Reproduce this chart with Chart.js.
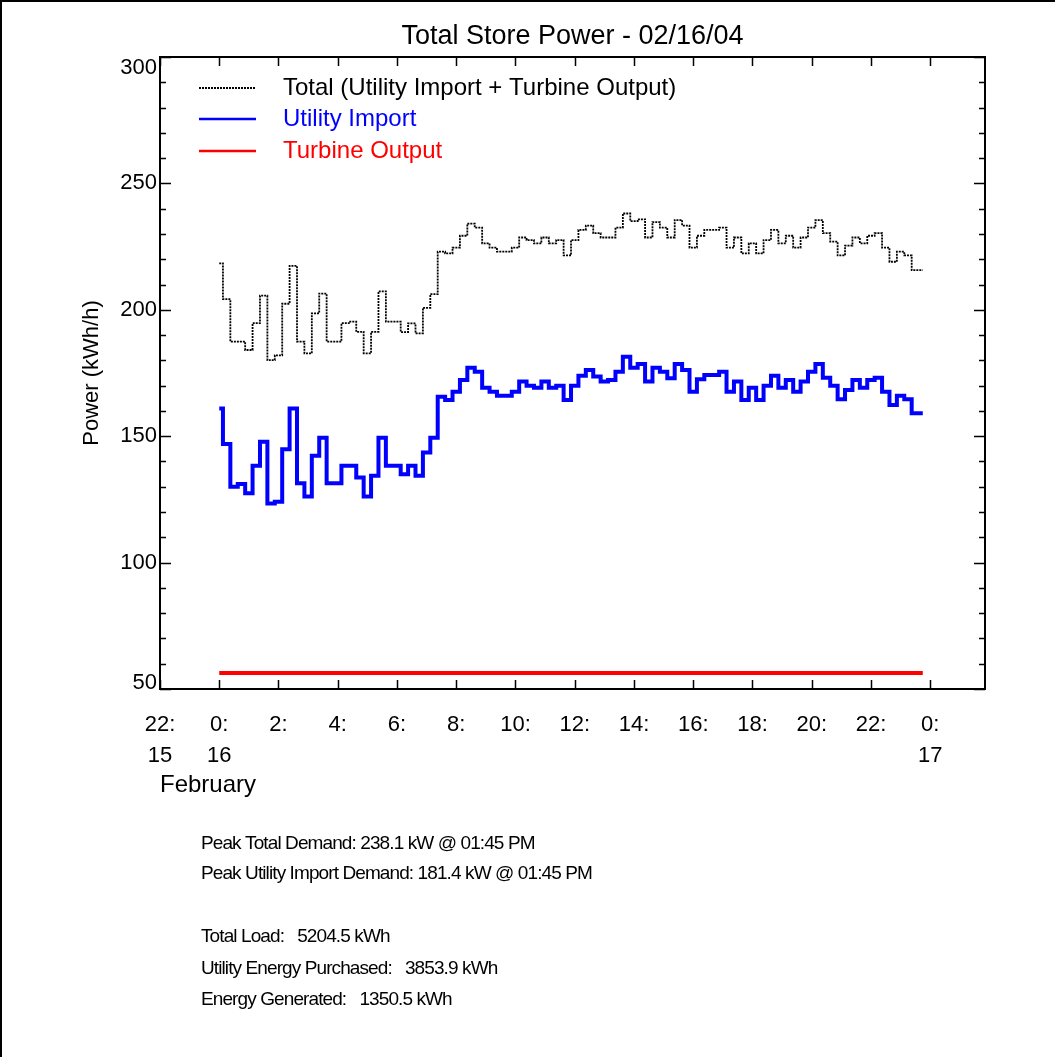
<!DOCTYPE html>
<html>
<head>
<meta charset="utf-8">
<title>Total Store Power - 02/16/04</title>
<script src="https://cdn.jsdelivr.net/npm/chart.js@4.4.1/dist/chart.umd.min.js"></script>
<style>
    html, body { margin: 0; padding: 0; background: #fff; }
    #cadre { position: relative; width: 1055px; height: 1057px; }
</style>
</head>
<body>
<div id="cadre"><canvas id="graphique" width="1055" height="1057"></canvas></div>
<script>
// heures de la journée du 16/02 (pas de 15 minutes)
const heures = [
    0, 0.25, 0.5, 0.75, 1, 1.25, 1.5, 1.75, 2, 2.25, 2.5, 2.75,
    3, 3.25, 3.5, 3.75, 4, 4.25, 4.5, 4.75, 5, 5.25, 5.5, 5.75,
    6, 6.25, 6.5, 6.75, 7, 7.25, 7.5, 7.75, 8, 8.25, 8.5, 8.75,
    9, 9.25, 9.5, 9.75, 10, 10.25, 10.5, 10.75, 11, 11.25, 11.5, 11.75,
    12, 12.25, 12.5, 12.75, 13, 13.25, 13.5, 13.75, 14, 14.25, 14.5, 14.75,
    15, 15.25, 15.5, 15.75, 16, 16.25, 16.5, 16.75, 17, 17.25, 17.5, 17.75,
    18, 18.25, 18.5, 18.75, 19, 19.25, 19.5, 19.75, 20, 20.25, 20.5, 20.75,
    21, 21.25, 21.5, 21.75, 22, 22.25, 22.5, 22.75, 23, 23.25, 23.5, 23.75
];

// puissance totale (import réseau + turbine), kW
const puissanceTotale = [
    218.4, 204.2, 187.4, 187.4, 184.1, 194.7, 205.6, 180.1, 182.0, 202.4, 217.4, 187.4,
    182.8, 198.6, 206.4, 187.4, 187.4, 194.7, 195.3, 191.3, 182.8, 191.3, 207.3, 195.3,
    195.3, 191.2, 194.6, 190.7, 200.8, 206.2, 223.0, 222.3, 224.6, 229.3, 234.1, 232.5,
    226.3, 224.6, 223.0, 223.0, 224.6, 228.6, 227.6, 226.3, 228.6, 226.3, 227.6, 221.5,
    227.6, 231.6, 233.3, 230.3, 228.6, 228.6, 232.5, 238.1, 235.1, 235.8, 228.6, 234.7,
    232.5, 228.6, 235.5, 233.3, 224.6, 229.3, 231.6, 231.6, 232.5, 224.6, 228.6, 222.3,
    226.3, 222.3, 227.6, 231.6, 226.3, 229.3, 224.6, 228.6, 232.5, 235.5, 230.3, 227.0,
    221.5, 225.4, 228.6, 226.3, 229.3, 230.3, 224.6, 219.0, 223.0, 221.5, 215.7, 215.7
];

// import réseau, kW
const importReseau = [
    161.0, 146.9, 130.0, 131.1, 127.4, 138.3, 147.8, 123.4, 124.1, 144.8, 161.0, 131.4,
    126.1, 142.3, 149.4, 131.4, 131.4, 138.3, 138.3, 133.7, 126.1, 134.4, 149.4, 138.3,
    138.3, 134.9, 138.3, 134.4, 143.6, 149.4, 165.6, 164.3, 167.6, 172.2, 177.1, 175.5,
    169.2, 167.6, 166.0, 166.0, 167.6, 171.6, 170.0, 169.2, 171.6, 169.2, 170.0, 164.3,
    170.0, 173.9, 176.2, 173.6, 171.6, 172.2, 175.5, 181.4, 177.1, 178.6, 171.6, 177.1,
    175.5, 172.9, 178.6, 176.2, 167.6, 172.5, 174.2, 174.2, 175.5, 167.6, 171.6, 164.3,
    169.2, 164.3, 170.0, 173.9, 169.2, 172.2, 167.6, 171.6, 175.5, 178.6, 173.1, 170.0,
    164.6, 168.3, 172.2, 169.2, 172.2, 173.1, 167.6, 162.3, 166.0, 164.6, 159.1, 159.1
];

// sortie turbine, kW
const sortieTurbine = [
    56.3, 56.3, 56.3, 56.3, 56.3, 56.3, 56.3, 56.3, 56.3, 56.3, 56.3, 56.3,
    56.3, 56.3, 56.3, 56.3, 56.3, 56.3, 56.3, 56.3, 56.3, 56.3, 56.3, 56.3,
    56.3, 56.3, 56.3, 56.3, 56.3, 56.3, 56.3, 56.3, 56.3, 56.3, 56.3, 56.3,
    56.3, 56.3, 56.3, 56.3, 56.3, 56.3, 56.3, 56.3, 56.3, 56.3, 56.3, 56.3,
    56.3, 56.3, 56.3, 56.3, 56.3, 56.3, 56.3, 56.3, 56.3, 56.3, 56.3, 56.3,
    56.3, 56.3, 56.3, 56.3, 56.3, 56.3, 56.3, 56.3, 56.3, 56.3, 56.3, 56.3,
    56.3, 56.3, 56.3, 56.3, 56.3, 56.3, 56.3, 56.3, 56.3, 56.3, 56.3, 56.3,
    56.3, 56.3, 56.3, 56.3, 56.3, 56.3, 56.3, 56.3, 56.3, 56.3, 56.3, 56.3
];

// graduations
const graduationsHeures = [-2, 0, 2, 4, 6, 8, 10, 12, 14, 16, 18, 20, 22, 24];
const etiquettesHeures = ['22:', '0:', '2:', '4:', '6:', '8:', '10:', '12:', '14:', '16:', '18:', '20:', '22:', '0:'];
const etiquettesJours = ['15', '16', '', '', '', '', '', '', '', '', '', '', '', '17'];
const graduationsPuissance = [50, 100, 150, 200, 250, 300];

const titre = 'Total Store Power - 02/16/04';
const titreAxeY = 'Power (kWh/h)';
const moisAxeX = 'February';

const legende = [
    {texte: 'Total (Utility Import + Turbine Output)', couleur: '#000000', pointille: true},
    {texte: 'Utility Import', couleur: '#0000ff', pointille: false},
    {texte: 'Turbine Output', couleur: '#ff0000', pointille: false}
];

const resume = [
    'Peak Total Demand: 238.1 kW @ 01:45 PM',
    'Peak Utility Import Demand: 181.4 kW @ 01:45 PM',
    '',
    'Total Load:   5204.5 kWh',
    'Utility Energy Purchased:   3853.9 kWh',
    'Energy Generated:   1350.5 kWh'
];

const police = '"Liberation Sans", Arial, Helvetica, sans-serif';


function versPoints(valeurs) {
    return valeurs.map((v, i) => ({x: heures[i], y: v}));
}


// cadre, graduations internes, légende et textes autour du graphique
const habillage = {
    id: 'habillage',
    afterDraw(chart) {
        const ctx = chart.ctx;
        const zone = chart.chartArea;
        const echX = chart.scales.x;
        const echY = chart.scales.y;

        ctx.save();
        ctx.strokeStyle = '#000';
        ctx.fillStyle = '#000';

        // bord de la figure
        ctx.lineWidth = 2;
        ctx.beginPath();
        ctx.moveTo(1, 1057);
        ctx.lineTo(1, 1);
        ctx.lineTo(1055, 1);
        ctx.stroke();

        // cadre du graphique
        ctx.strokeRect(zone.left, zone.top, zone.right - zone.left, zone.bottom - zone.top);

        // graduations Y (majeures tous les 50, mineures tous les 10)
        ctx.lineWidth = 1.5;
        ctx.beginPath();
        for (let v = 50; v <= 300; v += 10) {
            const y = Math.round(echY.getPixelForValue(v)) + 0.5;
            const long = graduationsPuissance.includes(v) ? 11 : 6;
            ctx.moveTo(zone.left, y);
            ctx.lineTo(zone.left + long, y);
            ctx.moveTo(zone.right, y);
            ctx.lineTo(zone.right - long, y);
        }
        // graduations X
        for (const h of graduationsHeures) {
            const x = Math.round(echX.getPixelForValue(h)) + 0.5;
            ctx.moveTo(x, zone.bottom);
            ctx.lineTo(x, zone.bottom - 9);
            ctx.moveTo(x, zone.top);
            ctx.lineTo(x, zone.top + 9);
        }
        ctx.stroke();

        // étiquettes Y, gardées dans la hauteur du cadre
        ctx.font = '22px ' + police;
        ctx.textAlign = 'right';
        ctx.textBaseline = 'middle';
        for (const v of graduationsPuissance) {
            let y = echY.getPixelForValue(v);
            y = Math.max(zone.top + 11, Math.min(zone.bottom - 6, y));
            ctx.fillText(String(v), zone.left - 3, y);
        }

        // titre
        ctx.font = '27px ' + police;
        ctx.textAlign = 'center';
        ctx.textBaseline = 'middle';
        ctx.fillText(titre, (zone.left + zone.right) / 2, 37);

        // titre de l'axe Y
        ctx.save();
        ctx.translate(92, (zone.top + zone.bottom) / 2);
        ctx.rotate(-Math.PI / 2);
        ctx.font = '22px ' + police;
        ctx.fillText(titreAxeY, 0, 0);
        ctx.restore();

        // mois sous l'axe X
        ctx.font = '24px ' + police;
        ctx.textAlign = 'left';
        ctx.fillText(moisAxeX, 160, 785);

        // légende
        const lignesLegende = [88, 119, 151];
        legende.forEach(function (el, i) {
            const y = lignesLegende[i];
            ctx.strokeStyle = el.couleur;
            ctx.lineWidth = el.pointille ? 1.8 : 2.5;
            ctx.setLineDash(el.pointille ? [2, 1] : []);
            ctx.beginPath();
            ctx.moveTo(199, y);
            ctx.lineTo(256, y);
            ctx.stroke();
            ctx.setLineDash([]);
            ctx.fillStyle = el.couleur;
            ctx.font = '24px ' + police;
            ctx.fillText(el.texte, 283, y);
        });

        // résumé énergétique
        ctx.fillStyle = '#000';
        ctx.font = '19px ' + police;
        if ('letterSpacing' in ctx) {
            ctx.letterSpacing = '-0.9px';
        }
        const lignesResume = [844, 874, 906, 937, 969, 1000];
        resume.forEach(function (txt, i) {
            if (txt) {
                ctx.fillText(txt, 201, lignesResume[i]);
            }
        });

        ctx.restore();
    }
};


const graph = document.getElementById('graphique');

new Chart(graph, {
    type: 'line',
    data: {
        datasets: [{
            label: legende[0].texte,
            data: versPoints(puissanceTotale),
            borderColor: '#000000',
            borderWidth: 1.8,
            borderDash: [2, 1],
            stepped: 'middle',
            pointRadius: 0,
            fill: false
        }, {
            label: legende[1].texte,
            data: versPoints(importReseau),
            borderColor: '#0000ff',
            borderWidth: 4,
            stepped: 'middle',
            pointRadius: 0,
            fill: false
        }, {
            label: legende[2].texte,
            data: versPoints(sortieTurbine),
            borderColor: '#ff0000',
            borderWidth: 4,
            stepped: 'middle',
            pointRadius: 0,
            fill: false
        }]
    },
    options: {
        responsive: false,
        animation: false,
        devicePixelRatio: 1,
        layout: {
            padding: {top: 57, right: 70, left: 0, bottom: 0}
        },
        plugins: {
            legend: {display: false},
            tooltip: {enabled: false},
            title: {display: false}
        },
        scales: {
            x: {
                type: 'linear',
                min: -2,
                max: 25.85,
                grid: {display: false},
                border: {display: false},
                afterBuildTicks: function (scale) {
                    scale.ticks = graduationsHeures.map(v => ({value: v}));
                },
                afterFit: function (scale) {
                    scale.height = 1057 - 689;
                },
                ticks: {
                    autoSkip: false,
                    maxRotation: 0,
                    padding: 12,
                    color: '#000',
                    font: {family: police, size: 22, lineHeight: 1.41},
                    callback: function (value, index) {
                        const jour = etiquettesJours[index];
                        return jour ? [etiquettesHeures[index], jour] : etiquettesHeures[index];
                    }
                }
            },
            y: {
                type: 'linear',
                min: 50,
                max: 300,
                grid: {display: false},
                border: {display: false},
                afterBuildTicks: function (scale) {
                    scale.ticks = graduationsPuissance.map(v => ({value: v}));
                },
                afterFit: function (scale) {
                    scale.width = 160;
                },
                ticks: {display: false}
            }
        }
    },
    plugins: [habillage]
});
</script>
</body>
</html>
